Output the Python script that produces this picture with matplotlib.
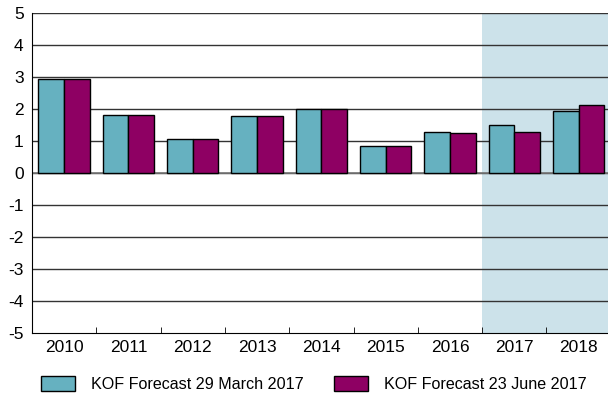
import numpy as np
import matplotlib
matplotlib.use("Agg")
import matplotlib.pyplot as plt
from matplotlib.patches import Patch

plt.rcParams["font.family"] = ["Liberation Sans", "DejaVu Sans"]
plt.rcParams["axes.unicode_minus"] = False

years = ["2010", "2011", "2012", "2013", "2014", "2015", "2016", "2017", "2018"]
march = [2.95, 1.80, 1.05, 1.78, 1.99, 0.84, 1.28, 1.50, 1.94]
june = [2.95, 1.80, 1.05, 1.78, 1.99, 0.84, 1.26, 1.28, 2.14]
labels = ["KOF Forecast 29 March 2017", "KOF Forecast 23 June 2017"]

c_march = "#66b1c0"
c_june = "#8e0063"

fig = plt.figure(figsize=(6.08, 4.00), dpi=100)
ax = fig.add_axes([0.0526, 0.1675, 0.952, 0.80])

x = np.arange(len(years))
w = 0.4

# forecast period shading
ax.axvspan(6.5, 8.6, color="#cce2ea", zorder=0, lw=0)

for v in range(-4, 6):
    ax.axhline(v, color="#333333", lw=1.0, zorder=1)
ax.axhline(0, color="#777777", lw=1.2, zorder=1)

ax.bar(x - w / 2, march, w, color=c_march, edgecolor="black", lw=1.0, zorder=3)
ax.bar(x + w / 2, june, w, color=c_june, edgecolor="black", lw=1.0, zorder=3)

ax.set_xlim(-0.5, 8.5)
ax.set_ylim(-5, 5)
ax.set_yticks(range(-5, 6))
ax.tick_params(axis="y", length=0, labelsize=12.5, pad=6)

ax.set_xticks(x)
ax.set_xticklabels(years, fontsize=12.5)
ax.tick_params(axis="x", which="major", length=0, pad=5)
ax.set_xticks(np.arange(0.5, 8.5, 1), minor=True)
ax.tick_params(axis="x", which="minor", direction="in", length=4, color="black")

for s in ["top", "right"]:
    ax.spines[s].set_visible(False)
ax.spines["left"].set_color("black")
ax.spines["bottom"].set_color("black")
ax.spines["left"].set_zorder(4)
ax.spines["bottom"].set_zorder(4)

handles = [Patch(facecolor=c_march, edgecolor="black", lw=1.0),
           Patch(facecolor=c_june, edgecolor="black", lw=1.0)]
fig.legend(handles, labels, loc="center", bbox_to_anchor=(0.516, 0.04),
           ncol=2, frameon=False, fontsize=11.6, handlelength=2.1, handleheight=1.1,
           columnspacing=1.9, handletextpad=1.0, borderpad=0)

fig.savefig("out.png", dpi=100)
